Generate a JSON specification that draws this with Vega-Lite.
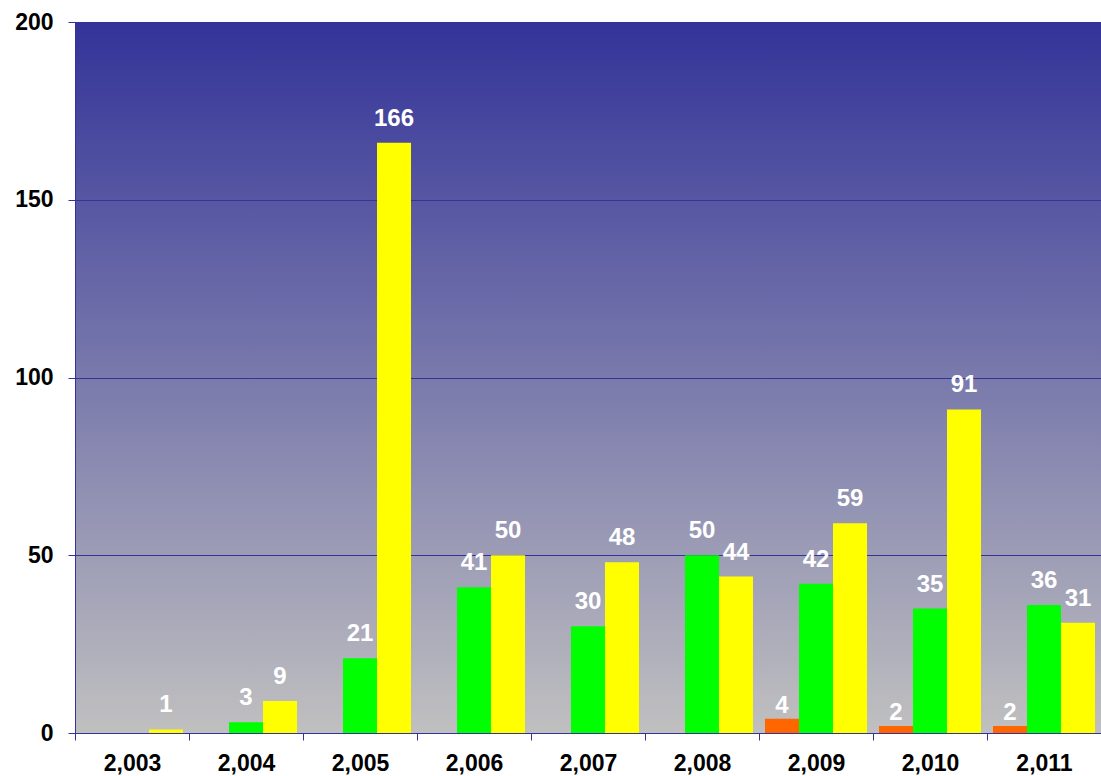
{
  "$schema": "https://vega.github.io/schema/vega-lite/v6.json",
  "width": 1026,
  "height": 711,
  "autosize": {"type": "none"},
  "padding": {"left": 75, "top": 22, "right": 0, "bottom": 43},
  "background": "white",
  "config": {
    "view": {
      "stroke": null,
      "fill": {"gradient": "linear", "x1": 0, "y1": 0, "x2": 0, "y2": 1, "stops": [{"offset": 0, "color": "#333399"}, {"offset": 1, "color": "#C0C0C0"}]}
    },
    "font": "Liberation Sans"
  },
  "data": {
    "values": [
      {"year": 2003, "series": "c", "value": 1},
      {"year": 2004, "series": "b", "value": 3},
      {"year": 2004, "series": "c", "value": 9},
      {"year": 2005, "series": "b", "value": 21},
      {"year": 2005, "series": "c", "value": 166},
      {"year": 2006, "series": "b", "value": 41},
      {"year": 2006, "series": "c", "value": 50},
      {"year": 2007, "series": "b", "value": 30},
      {"year": 2007, "series": "c", "value": 48},
      {"year": 2008, "series": "b", "value": 50},
      {"year": 2008, "series": "c", "value": 44},
      {"year": 2009, "series": "a", "value": 4},
      {"year": 2009, "series": "b", "value": 42},
      {"year": 2009, "series": "c", "value": 59},
      {"year": 2010, "series": "a", "value": 2},
      {"year": 2010, "series": "b", "value": 35},
      {"year": 2010, "series": "c", "value": 91},
      {"year": 2011, "series": "a", "value": 2},
      {"year": 2011, "series": "b", "value": 36},
      {"year": 2011, "series": "c", "value": 31}
    ]
  },
  "encoding": {
    "x": {
      "field": "year", "type": "ordinal",
      "scale": {"paddingInner": 0, "paddingOuter": 0},
      "axis": {
        "title": null, "labelAngle": 0,
        "labelExpr": "isValid(datum.value) && isFinite(+datum.value) ? format(datum.value, ',') : ''",
        "labelFontSize": 23, "labelFontWeight": "bold", "labelColor": "black",
        "tickBand": "extent", "tickSize": 7, "tickColor": "#333399",
        "domainColor": "#333399", "labelPadding": 12, "grid": false
      }
    },
    "xOffset": {
      "field": "series", "type": "nominal",
      "scale": {"domain": ["a", "b", "c"], "paddingInner": 0, "paddingOuter": 0.176}
    },
    "y": {
      "field": "value", "type": "quantitative",
      "scale": {"domain": [0, 200]},
      "axis": {
        "title": null, "values": [0, 50, 100, 150, 200],
        "labelFontSize": 23, "labelFontWeight": "bold", "labelColor": "black",
        "tickSize": 7, "tickColor": "#333399", "domainColor": "#333399",
        "labelPadding": 15, "gridColor": "#333399", "gridOpacity": 1, "gridWidth": 1
      }
    }
  },
  "layer": [
    {
      "mark": {"type": "bar"},
      "encoding": {
        "color": {
          "field": "series", "type": "nominal",
          "scale": {"domain": ["a", "b", "c"], "range": ["#FF6600", "#00FF00", "#FFFF00"]},
          "legend": null
        }
      }
    },
    {
      "transform": [{"filter": "datum.series != 'a'"}],
      "mark": {"type": "text", "color": "white", "fontSize": 24, "fontWeight": "bold", "baseline": "alphabetic", "dy": -17},
      "encoding": {"text": {"field": "value", "type": "quantitative"}}
    },
    {
      "transform": [{"filter": "datum.series == 'a'"}],
      "mark": {"type": "text", "color": "white", "fontSize": 24, "fontWeight": "bold", "baseline": "alphabetic", "dy": -6},
      "encoding": {"text": {"field": "value", "type": "quantitative"}}
    }
  ]
}
